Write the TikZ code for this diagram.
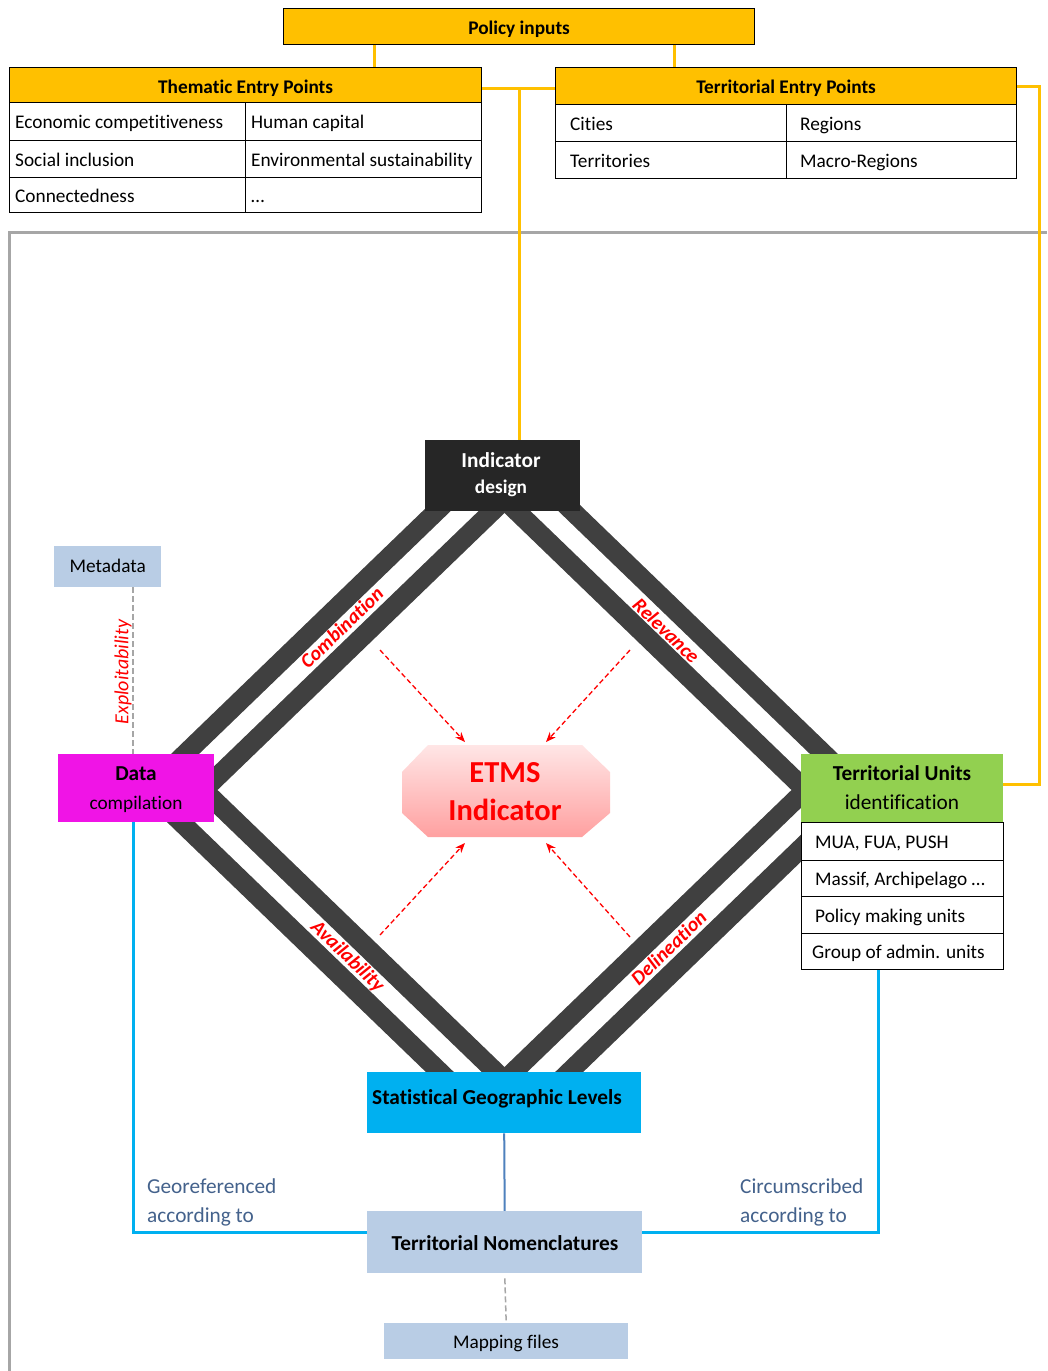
\documentclass[tikz,border=0pt]{standalone}
\usepackage{fontspec}
\setmainfont{Carlito}[RawFeature={-liga}]
\usetikzlibrary{arrows.meta,calc}
\definecolor{orng}{HTML}{FFC000}
\definecolor{band}{HTML}{404040}
\definecolor{idbox}{HTML}{262626}
\definecolor{magen}{RGB}{240,20,230}
\definecolor{grn}{HTML}{92D050}
\definecolor{cyanb}{HTML}{00B0F0}
\definecolor{lblue}{HTML}{B9CDE5}
\definecolor{steel}{HTML}{4F81BD}
\definecolor{slate}{RGB}{68,98,140}
\definecolor{framegray}{HTML}{A6A6A6}
\definecolor{etmstop}{RGB}{255,230,230}
\definecolor{etmsbot}{RGB}{255,160,160}
\newcommand\szbase{\fontsize{19.3pt}{23pt}\selectfont}
\newcommand\szbig{\fontsize{21.3pt}{25pt}\selectfont}
\newcommand\szetms{\fontsize{30.5pt}{36pt}\selectfont}
\newcommand\szlab{\fontsize{20pt}{24pt}\selectfont}
\pgfdeclarelayer{back}
\pgfdeclarelayer{bg}
\pgfsetlayers{back,bg,main}
\begin{document}
\begin{tikzpicture}[x=1pt,y=-1pt,
  tb/.style={inner sep=0,text height=12.4pt,text depth=0pt,font=\szbase},
  tbb/.style={inner sep=0,text height=13.7pt,text depth=0pt,font=\szbig},
  box/.style={inner sep=0,anchor=north west},
  cell/.style={box,draw=black,line width=1.2pt,fill=white},
  oline/.style={draw=orng,line width=3pt},
  bandline/.style={draw=band,line width=19.4pt},
  blueline/.style={draw=cyanb,line width=3pt},
  frameline/.style={draw=framegray,line width=3pt},
  redarrow/.style={draw=red,line width=1.3pt,dash pattern=on 5pt off 3pt,-{Stealth[length=10pt,width=8pt]}},
  redlab/.style={inner sep=0,text=red,font=\szlab\bfseries\itshape,text height=12.9pt,text depth=0pt},
  graydash/.style={draw=gray!70,line width=1.5pt,dash pattern=on 6pt off 3pt},
]
\useasboundingbox (0,0) rectangle (1047,1371);
\begin{pgfonlayer}{back}
\fill[white] (0,0) rectangle (1047,1371);
\end{pgfonlayer}

% ---------- top tables ----------
\node[cell,fill=orng,minimum width=471,minimum height=36] (policy) at (283,8) {};
\node[tb,font=\szbase\bfseries] at ([yshift=-2]policy.center) {Policy inputs};

\node[cell,fill=orng,minimum width=472,minimum height=35] (thh) at (9,67) {};
\node[tb,font=\szbase\bfseries] at ([yshift=-2.5]thh.center) {Thematic Entry Points};
\node[cell,minimum width=236,minimum height=38] (t11) at (9,102) {};
\node[cell,minimum width=236,minimum height=38] (t12) at (245,102) {};
\node[cell,minimum width=236,minimum height=37] (t21) at (9,140) {};
\node[cell,minimum width=236,minimum height=37] (t22) at (245,140) {};
\node[cell,minimum width=236,minimum height=35] (t31) at (9,177) {};
\node[cell,minimum width=236,minimum height=35] (t32) at (245,177) {};
\node[tb,anchor=west] at ([xshift=6,yshift=-1]t11.west) {Economic competitiveness};
\node[tb,anchor=west] at ([xshift=6,yshift=-1]t12.west) {Human capital};
\node[tb,anchor=west] at ([xshift=6,yshift=-1]t21.west) {Social inclusion};
\node[tb,anchor=west] at ([xshift=6,yshift=-1]t22.west) {Environmental sustainability};
\node[tb,anchor=west] at ([xshift=6,yshift=-1]t31.west) {Connectedness};
\node[tb,anchor=west] at ([xshift=6,yshift=-1]t32.west) {\textellipsis};

\node[cell,fill=orng,minimum width=461,minimum height=37] (teh) at (555,67) {};
\node[tb,font=\szbase\bfseries] at ([yshift=-1.5]teh.center) {Territorial Entry Points};
\node[cell,minimum width=231,minimum height=37] (r11) at (555,104) {};
\node[cell,minimum width=230,minimum height=37] (r12) at (786,104) {};
\node[cell,minimum width=231,minimum height=37] (r21) at (555,141) {};
\node[cell,minimum width=230,minimum height=37] (r22) at (786,141) {};
\node[tb,anchor=west] at ([xshift=15,yshift=-1]r11.west) {Cities};
\node[tb,anchor=west] at ([xshift=14,yshift=-1]r12.west) {Regions};
\node[tb,anchor=west] at ([xshift=15,yshift=-1]r21.west) {Territories};
\node[tb,anchor=west] at ([xshift=14,yshift=-1]r22.west) {Macro-Regions};

% ---------- diamond nodes ----------
\node[box,fill=idbox,minimum width=155,minimum height=71] (ind) at (425,440) {};
\node[tbb,text=white,font=\szbig\bfseries] at (501,461) {Indicator};
\node[tb,text=white,font=\szbase\bfseries] at (501,487) {design};

\node[box,fill=lblue,minimum width=107,minimum height=41] (meta) at (54,546) {};
\node[tb] at (meta.center) {Metadata};

\node[box,fill=magen,minimum width=156,minimum height=68] (data) at (58,754) {};
\node[tbb,font=\szbig\bfseries] at (136,774) {Data};
\node[tb] at (136,803) {compilation};

\node[box,fill=grn,minimum width=202,minimum height=68] (tu) at (801,754) {};
\node[tbb,font=\szbig\bfseries] at (902,774) {Territorial Units};
\node[tbb] at (902,803) {identification};
\node[cell,minimum width=202,minimum height=38] (u1) at (801,822) {};
\node[cell,minimum width=202,minimum height=36] (u2) at (801,860) {};
\node[cell,minimum width=202,minimum height=37] (u3) at (801,896) {};
\node[cell,minimum width=202,minimum height=36] (u4) at (801,933) {};
\node[tb,anchor=west] at ([xshift=14,yshift=-1]u1.west) {MUA, FUA, PUSH};
\node[tb,anchor=west] at ([xshift=14,yshift=-1]u2.west) {Massif, Archipelago \textellipsis};
\node[tb,anchor=west] at ([xshift=14,yshift=-1]u3.west) {Policy making units};
\node[tb,anchor=west] at ([xshift=11,yshift=-1]u4.west) {Group of admin. units};

\node[box,fill=cyanb,minimum width=274,minimum height=61] (sgl) at (367,1072) {};
\node[tbb,font=\szbig\bfseries] at (497,1098) {Statistical Geographic Levels};

\node[box,fill=lblue,minimum width=275,minimum height=62] (tn) at (367,1211) {};
\node[tbb,font=\szbig\bfseries] at (505,1244) {Territorial Nomenclatures};

\node[box,fill=lblue,minimum width=244,minimum height=36] (map) at (384,1323) {};
\node[tb] at (506,1342) {Mapping files};

% ETMS indicator
\node[minimum width=208,minimum height=92,inner sep=0] (etms) at (506,791) {};
\begin{pgfonlayer}{bg}
\shade[top color=etmstop,bottom color=etmsbot]
  (428,745) -- (582,745) -- (610,772) -- (610,813) -- (582,837) -- (428,837) -- (402,813) -- (402,772) -- cycle;
\end{pgfonlayer}
\node[inner sep=0,text=red,font=\szetms\bfseries,text height=19.6pt,text depth=0pt] at (505,773) {ETMS};
\node[inner sep=0,text=red,font=\szetms\bfseries,text height=19.6pt,text depth=0pt] at (505,811) {Indicator};

% ---------- background lines ----------
\coordinate (Ti) at (504.5,499.5);
\coordinate (Li) at (203.5,790);
\coordinate (Bi) at (504.5,1080.5);
\coordinate (Ri) at (805.5,790);
\coordinate (To) at (504.5,445.6);
\coordinate (Lo) at (147.7,790);
\coordinate (Bo) at (504.5,1134.4);
\coordinate (Ro) at (861.3,790);
\coordinate (oa) at (374,0);
\coordinate (ob) at (674,0);
\coordinate (oj) at (519,88);
\coordinate (oc) at (1039,400);
\coordinate (mx) at (133,0);
\begin{pgfonlayer}{bg}
\draw[frameline] (1047,232) -- (9,232) -- (9,1371);
\draw[oline] (policy.south -| oa) -- (thh.north -| oa);
\draw[oline] (policy.south -| ob) -- (teh.north -| ob);
\draw[oline] (thh.east |- oj) -- (teh.west |- oj);
\draw[oline] (oj) -- (oj |- ind.north);
\draw[oline] (teh.east) -| (oc) |- ([yshift=4]tu.east);
\draw[bandline,line join=miter] (Ti) -- (Li) -- (Bi) -- (Ri) -- cycle;
\draw[bandline,shorten <=35,shorten >=15] (To) -- (Lo);
\draw[bandline,shorten <=15,shorten >=49] (Lo) -- (Bo);
\draw[bandline,shorten <=49,shorten >=15] (Bo) -- (Ro);
\draw[bandline,shorten <=15,shorten >=35] (Ro) -- (To);
\draw[blueline] (data.south -| mx) |- ([yshift=10]tn.west);
\draw[blueline] ([xshift=-24]u4.south) |- ([yshift=10]tn.east);
\draw[steel,line width=2pt] (sgl.south) -- (tn.north);
\draw[graydash] (meta.south -| mx) -- (data.north -| mx);
\draw[graydash,shorten <=5] (tn.south) -- (map.north);
\end{pgfonlayer}

% ---------- labels ----------
\node[redlab,rotate=44] (lc) at (342,628) {Combination};
\node[redlab,rotate=-44] (lr) at (666,631) {Relevance};
\node[redlab,rotate=-44] (la) at (348,956) {Availability};
\node[redlab,rotate=44] (ld) at (669,948) {Delineation};
\node[inner sep=0,text=red,font=\szlab\itshape,text height=12.9pt,text depth=0pt,rotate=90] (lx) at (122,672) {Exploitability};

\node[tbb,anchor=west,text=slate] (g1) at (147,1187) {Georeferenced};
\node[tbb,anchor=west,text=slate] (g2) at (147,1216) {according to};
\node[tbb,anchor=west,text=slate] (c1) at (740,1187) {Circumscribed};
\node[tbb,anchor=west,text=slate] (c2) at (740,1216) {according to};

% ---------- red arrows ----------
\coordinate (a1s) at (380,650); \coordinate (a1e) at (465,742);
\coordinate (a2s) at (630,650); \coordinate (a2e) at (546,742);
\coordinate (a3s) at (380,935); \coordinate (a3e) at (465,843);
\coordinate (a4s) at (630,937); \coordinate (a4e) at (546,843);
\draw[redarrow] (a1s) -- (a1e);
\draw[redarrow] (a2s) -- (a2e);
\draw[redarrow] (a3s) -- (a3e);
\draw[redarrow] (a4s) -- (a4e);
\end{tikzpicture}
\end{document}
